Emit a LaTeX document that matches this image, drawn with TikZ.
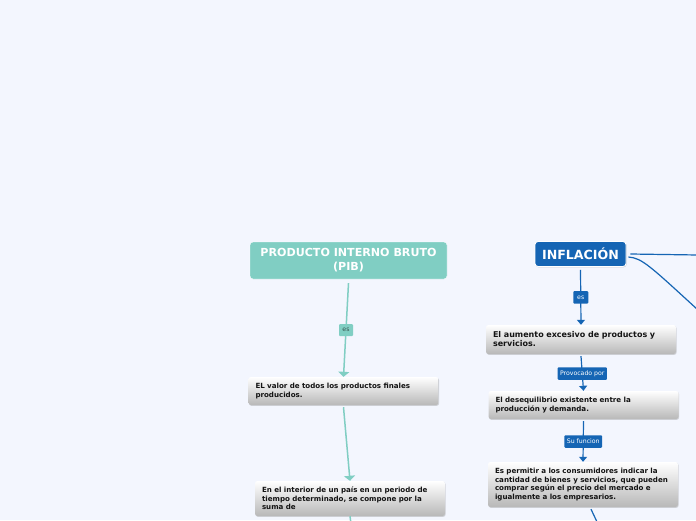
\documentclass[tikz,border=0pt]{standalone}
\usepackage{fontspec}
\setmainfont{DejaVu Sans}
\usetikzlibrary{arrows.meta,shadows}
\definecolor{bgpage}{RGB}{243,246,254}
\definecolor{teal2}{RGB}{128,206,195}
\definecolor{tealtext}{RGB}{55,85,80}
\definecolor{blue2}{RGB}{21,101,180}
\definecolor{boxgray}{RGB}{184,184,184}
\tikzset{
  tealtopic/.style={fill=teal2, draw=white, rounded corners=3pt, text=white, align=center,
    font=\bfseries\fontsize{11.1}{14}\selectfont, minimum width=197pt, minimum height=37pt},
  bluetopic/.style={fill=blue2, draw=white, line width=0.9pt, rounded corners=3pt, text=white,
    font=\bfseries\fontsize{12.6}{14}\selectfont, minimum width=91pt, minimum height=25pt,
    drop shadow={opacity=0.35, shadow xshift=0.6pt, shadow yshift=-0.8pt}},
  subtopic/.style={rounded corners=2.5pt, top color=white, bottom color=boxgray, align=left,
    text width=176pt, inner xsep=7pt, inner ysep=3pt, text=black!92,
    font=\bfseries\fontsize{7.1}{8.7}\selectfont,
    drop shadow={opacity=0.3, shadow xshift=0.6pt, shadow yshift=-0.9pt}},
  tealflow/.style={draw=teal2, line width=1.5pt, -{Triangle[width=11pt,length=5pt]}},
  blueflow/.style={draw=blue2, line width=1.2pt, -{Triangle[width=8pt,length=5pt]}},
  tealtag/.style={fill=teal2, rounded corners=1pt, text=tealtext, inner xsep=2.5pt, inner ysep=0pt,
    font=\fontsize{6.2}{7}\selectfont, minimum height=12pt, minimum width=14pt},
  bluetag/.style={fill=blue2, rounded corners=1pt, text=white, inner xsep=2.5pt, inner ysep=0pt,
    font=\fontsize{6.2}{7}\selectfont, minimum height=12.5pt, minimum width=15pt}
}
\begin{document}
\begin{tikzpicture}[x=1pt, y=-1pt]
\useasboundingbox (0,0) rectangle (696,520);
\fill[bgpage] (0,0) rectangle (696,520);

% PIB column
\node[tealtopic] (pib) at (348.5,260.5) {PRODUCTO INTERNO BRUTO\\(PIB)};
\node[subtopic, minimum height=28pt] (valor) at (343.5,391) {EL valor de todos los productos finales\\producidos.};
\node[subtopic, minimum height=35pt] (interior) at (350,498.5) {En el interior de un país en un periodo de\\tiempo determinado, se compone por la\\suma de};
\coordinate (pibend) at (351,524);

\draw[tealflow] ([yshift=-4pt]pib.south) -- node[tealtag] {es} (valor.north);
\draw[tealflow] ([yshift=-2pt]valor.south) -- (interior.north);
\draw[teal2, line width=1.5pt] (interior.south) -- (pibend);

% Inflacion column
\node[bluetopic] (infl) at (580.5,254) {INFLACIÓN};
\node[subtopic, minimum height=29pt, font=\bfseries\fontsize{8}{9}\selectfont] (aumento) at (581,339.5) {El aumento excesivo de productos y\\servicios.};
\node[subtopic, minimum height=28pt] (deseq) at (583.5,405) {El desequilibrio existente entre la\\producción y demanda.};
\node[subtopic, minimum height=45pt] (funcion) at (583,484.5) {Es permitir a los consumidores indicar la\\cantidad de bienes y servicios, que pueden\\comprar según el precio del mercado e\\igualmente a los empresarios.};
\coordinate (right1) at (698,255);
\coordinate (right2) at (698,310);
\coordinate (inflend) at (598,524);

\draw[blueflow] ([yshift=-3pt]infl.south) -- node[bluetag] {es} (aumento.north);
\draw[blueflow] ([yshift=-2pt]aumento.south) -- node[bluetag] {Provocado por} (deseq.north);
\draw[blueflow] ([yshift=-2pt]deseq.south) -- node[bluetag] {Su funcion} (funcion.north);
\draw[blue2, line width=1.2pt] ([xshift=8pt,yshift=-2pt]funcion.south) -- (inflend);
\draw[blue2, line width=1.2pt] ([xshift=4pt]infl.east) -- (right1);
\draw[blue2, line width=1.2pt] ([xshift=2pt,yshift=-3pt]infl.east) .. controls (642,258) and (650,266) .. (right2);
\end{tikzpicture}
\end{document}
